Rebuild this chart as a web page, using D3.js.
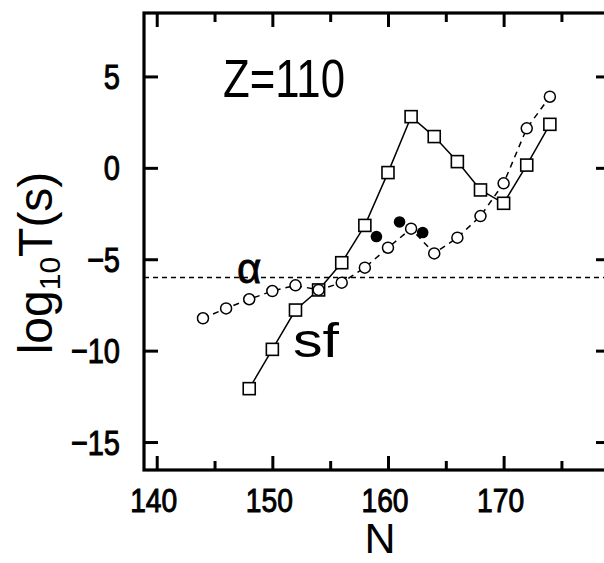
<!DOCTYPE html>
<html>
<head>
<meta charset="utf-8">
<script src="https://cdn.jsdelivr.net/npm/d3@7"></script>
<style>
  body { margin: 0; background: #fff; }
  text { font-family: "Liberation Sans", Arial, sans-serif; fill: #000; }
</style>
</head>
<body>
<svg id="chart" width="604" height="563"></svg>
<script>
// sf half-lives (squares, solid line)
var sfN = [148, 150, 152, 154, 156, 158, 160, 162, 164, 166, 168, 170, 172, 174];
var sfLogT = [-12.08, -9.93, -7.78, -6.68, -5.19, -3.15, -0.26, 2.80, 1.71, 0.34, -1.21, -1.94, 0.15, 2.38];

// alpha half-lives (open circles, dashed line)
var alphaN = [144, 146, 148, 150, 152, 154, 156, 158, 160, 162, 164, 166, 168, 170, 172, 174];
var alphaLogT = [-8.23, -7.69, -7.19, -6.74, -6.43, -6.68, -6.28, -5.46, -4.37, -3.33, -4.68, -3.82, -2.64, -0.85, 2.16, 3.89];

// odd-N alpha points (filled circles)
var oddN = [159, 161, 163];
var oddLogT = [-3.76, -2.96, -3.54];

var alphaLevel = -6;

var xMajor = [140, 150, 160, 170, 180];
var xMinor = [145, 155, 165, 175];
var yMajor = [5, 0, -5, -10, -15];

var margin = {left: 144, top: 13, right: 610, bottom: 470};

var svg = d3.select("#chart");

var x = d3.scaleLinear().domain([138.9, 179.2]).range([margin.left, margin.right]);
var y = d3.scaleLinear().domain([-16.53, 8.47]).range([margin.bottom, margin.top]);

// frame
svg.append("rect")
  .attr("x", margin.left).attr("y", margin.top)
  .attr("width", margin.right - margin.left)
  .attr("height", margin.bottom - margin.top)
  .attr("fill", "none").attr("stroke", "#000").attr("stroke-width", 3.2);

// ticks (inward) — majors 14px, minors 9px
function ticksX(vals, len) {
  svg.append("g").attr("transform", "translate(0," + margin.bottom + ")")
    .call(d3.axisBottom(x).tickValues(vals).tickSize(-len).tickFormat(""))
    .call(g => g.select(".domain").remove());
  svg.append("g").attr("transform", "translate(0," + margin.top + ")")
    .call(d3.axisTop(x).tickValues(vals).tickSize(-len).tickFormat(""))
    .call(g => g.select(".domain").remove());
}
ticksX(xMajor, 14);
ticksX(xMinor, 9);

svg.append("g").attr("transform", "translate(" + margin.left + ",0)")
  .call(d3.axisLeft(y).tickValues(yMajor).tickSize(-14).tickFormat(""))
  .call(g => g.select(".domain").remove());
svg.append("g").attr("transform", "translate(" + margin.right + ",0)")
  .call(d3.axisRight(y).tickValues(yMajor).tickSize(-14).tickFormat(""))
  .call(g => g.select(".domain").remove());

svg.selectAll(".tick line").attr("stroke", "#000").attr("stroke-width", 3);

// tick labels
svg.selectAll(".xlab").data(xMajor.filter(d => d <= 170)).join("text")
  .attr("class", "xlab")
  .attr("transform", d => "translate(" + (x(d) - 3) + ",512) scale(0.83,1)")
  .attr("text-anchor", "middle")
  .attr("font-size", 34)
  .attr("stroke", "#000").attr("stroke-width", 1)
  .text(d => d);

svg.selectAll(".ylab").data(yMajor).join("text")
  .attr("class", "ylab")
  .attr("transform", d => "translate(120," + (y(d) + 12.5) + ") scale(0.83,1)")
  .attr("text-anchor", "end")
  .attr("font-size", 35)
  .attr("stroke", "#000").attr("stroke-width", 1)
  .text(d => d < 0 ? "\u2212" + Math.abs(d) : d);

// alpha reference line
svg.append("line")
  .attr("x1", margin.left).attr("x2", margin.right)
  .attr("y1", y(alphaLevel)).attr("y2", y(alphaLevel))
  .attr("stroke", "#000").attr("stroke-width", 1.4)
  .attr("stroke-dasharray", "5,4");

var sfData = sfN.map((n, i) => [n, sfLogT[i]]);
var alphaData = alphaN.map((n, i) => [n, alphaLogT[i]]);
var oddData = oddN.map((n, i) => [n, oddLogT[i]]);

var line = d3.line().x(d => x(d[0])).y(d => y(d[1]));

svg.append("path").datum(sfData).attr("d", line)
  .attr("fill", "none").attr("stroke", "#000").attr("stroke-width", 1.5);
svg.append("path").datum(alphaData).attr("d", line)
  .attr("fill", "none").attr("stroke", "#000").attr("stroke-width", 1.5)
  .attr("stroke-dasharray", "6,5");

var sq = 12;
svg.selectAll(".sq").data(sfData).join("rect")
  .attr("class", "sq")
  .attr("x", d => x(d[0]) - sq / 2).attr("y", d => y(d[1]) - sq / 2)
  .attr("width", sq).attr("height", sq)
  .attr("fill", "#fff").attr("stroke", "#000").attr("stroke-width", 1.6);

svg.selectAll(".oc").data(alphaData).join("circle")
  .attr("class", "oc")
  .attr("cx", d => x(d[0])).attr("cy", d => y(d[1])).attr("r", 5.5)
  .attr("fill", "#fff").attr("stroke", "#000").attr("stroke-width", 1.5);

svg.selectAll(".fc").data(oddData).join("circle")
  .attr("class", "fc")
  .attr("cx", d => x(d[0])).attr("cy", d => y(d[1])).attr("r", 5.8)
  .attr("fill", "#000");

// annotations
svg.append("text").attr("x", 223).attr("y", 97)
  .attr("font-size", 53).attr("textLength", 122).attr("lengthAdjust", "spacingAndGlyphs")
  .text("Z=110");
svg.append("text").attr("x", 237).attr("y", 283)
  .attr("font-size", 42).attr("stroke", "#000").attr("stroke-width", 0.8).text("\u03b1");
svg.append("text").attr("x", 293).attr("y", 357)
  .attr("font-size", 48).attr("textLength", 46).attr("lengthAdjust", "spacingAndGlyphs")
  .text("sf");

// axis titles
svg.append("text").attr("x", 380).attr("y", 553)
  .attr("text-anchor", "middle").attr("font-size", 43).text("N");

var yt = svg.append("text")
  .attr("transform", "translate(52,263) rotate(-90)")
  .attr("text-anchor", "middle").attr("font-size", 48);
yt.append("tspan").text("log");
yt.append("tspan").attr("font-size", 30).attr("dy", 8).text("10");
yt.append("tspan").attr("dy", -8).text("T(s)");
</script>
</body>
</html>
